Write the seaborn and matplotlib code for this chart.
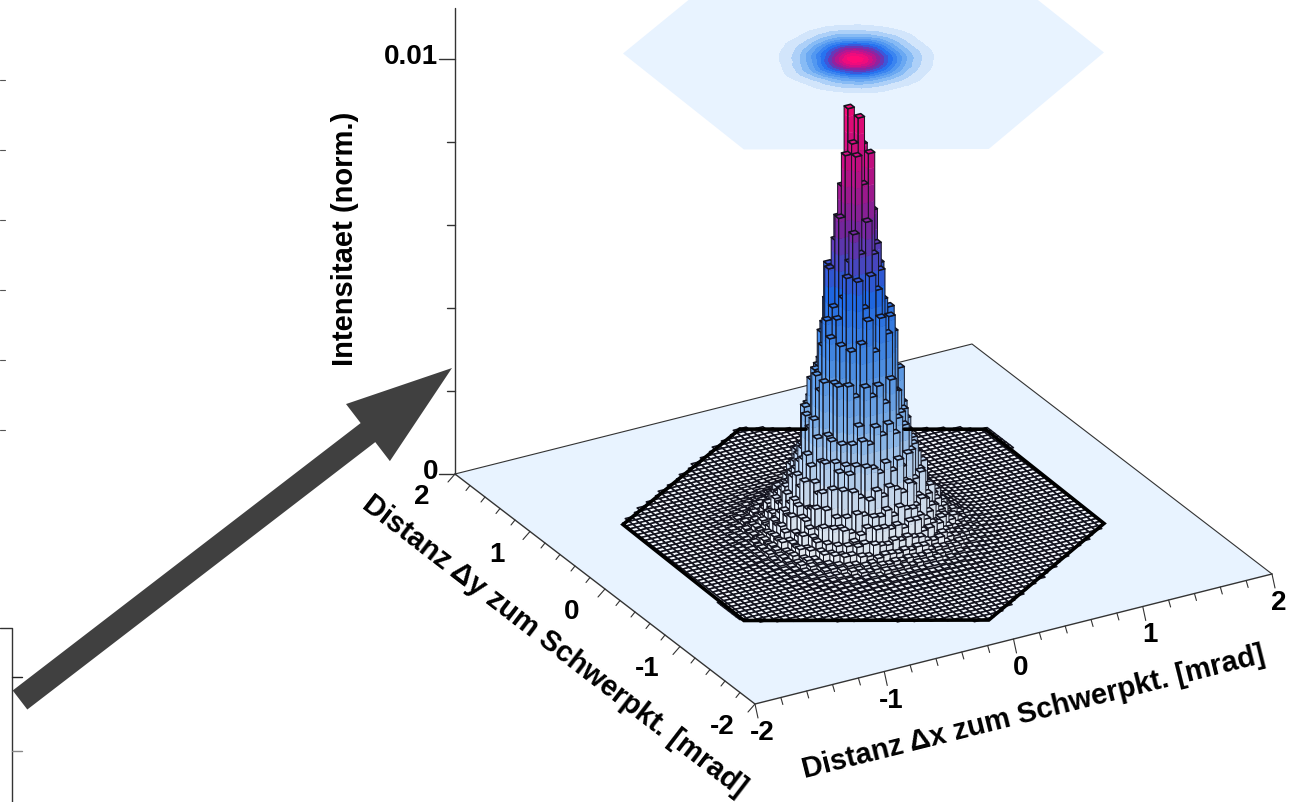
import numpy as np
import matplotlib
matplotlib.use("Agg")
import matplotlib.pyplot as plt
import seaborn as sns
from matplotlib.collections import PolyCollection
from matplotlib.colors import Normalize, to_rgba
from matplotlib.patches import FancyArrow, Polygon
from matplotlib.path import Path
from matplotlib.transforms import Affine2D

ring_width = 0.05
ring_values = [0.0098, 0.0089, 0.0074, 0.0062, 0.0052, 0.0038, 0.0029, 0.0021,
               0.0016, 0.00115, 0.00085, 0.0006, 0.0004, 0.00028, 0.0002,
               0.00013, 0.00009, 0.00006, 0.00004, 0.00002, 0.00001]
peak_x = -0.086
peak_y = -0.056

# cell to cell scatter of the histogram
scatter = [[1.00, 0.90, 1.03, 0.94, 1.02],
           [0.93, 1.03, 0.96, 1.04, 0.91],
           [1.03, 0.95, 1.02, 0.89, 1.03],
           [0.92, 1.03, 0.90, 1.04, 0.97],
           [1.03, 0.94, 1.04, 0.96, 0.90]]

hex_corners = [(0.0, 1.65), (1.43, 0.84), (1.405, -0.785),
               (0.0, -1.67), (-1.43, -0.87), (-1.405, 0.785)]
cell = 0.05

xy_major = [-2, -1, 0, 1, 2]
xy_minor = [-2 + 0.2 * i for i in range(21)]
z_ticks = [0, 0.002, 0.004, 0.006, 0.008, 0.01]
z_labels = {0: "0", 0.01: "0.01"}
top_plane_z = 0.01135

palette = ["#f6faff", "#cfe4fb", "#7fb6f4", "#4a93f0", "#1f6cf0",
           "#7a2aa8", "#c8108a", "#ff0a78"]
floor_color = "#e8f3ff"
line_color = "#333333"

# screen geometry of the oblique view
ORIGIN = (863.5, 524.0)
X_STEP = (129.25, -32.5)
Y_STEP = (-75.0, -57.5)
Z_STEP = -41500.0


def project(x, y, z=0.0):
    sx = ORIGIN[0] + X_STEP[0] * x + Y_STEP[0] * y
    sy = ORIGIN[1] + X_STEP[1] * x + Y_STEP[1] * y + Z_STEP * z
    return sx, sy


def bar_height(i, j, x, y):
    r = np.hypot(x - peak_x, y - peak_y)
    ring = min(int(r / ring_width), len(ring_values) - 1)
    return ring_values[ring] * scatter[i % 5][j % 5]


def shade(color, factor):
    r, g, b, a = color
    return (r * factor, g * factor, b * factor, a)


def box_average(grid):
    filled = np.nan_to_num(grid)
    out = np.zeros_like(filled)
    for dj in (-1, 0, 1):
        for di in (-1, 0, 1):
            out += np.roll(np.roll(filled, dj, axis=0), di, axis=1)
    return out / 9


sns.set_theme(style="white")
plt.rcParams["font.family"] = ["Liberation Sans", "DejaVu Sans"]
plt.rcParams["text.color"] = "black"

fig = plt.figure(figsize=(12.97, 8.02), dpi=100)
ax = fig.add_axes([0, 0, 1, 1])
ax.set_xlim(0, 1297)
ax.set_ylim(802, 0)
ax.axis("off")

cmap = sns.blend_palette(palette, as_cmap=True)
norm = Normalize(0, 0.0103)

hex_path = Path(hex_corners + [hex_corners[0]])
xs = np.arange(-1.425, 1.43, cell)
ys = np.arange(-1.675, 1.68, cell)
heights = np.full((len(ys), len(xs)), np.nan)
for j, y in enumerate(ys):
    for i, x in enumerate(xs):
        if hex_path.contains_point((x, y)):
            heights[j, i] = bar_height(i, j, x, y)

# floor
floor = [project(-2, -2), project(2, -2), project(2, 2), project(-2, 2)]
ax.add_patch(Polygon(floor, closed=True, facecolor=floor_color, edgecolor="none", zorder=1))
ax.plot(*zip(project(-2, 2), project(2, 2), project(2, -2)), color=line_color, lw=0.8, zorder=2)
ax.plot(*zip(project(-2, 2), project(-2, -2), project(2, -2)), color=line_color, lw=1.0, zorder=2)

# projection plane on top, with the same cells as contours
ax.add_patch(Polygon([project(a, b, top_plane_z) for a, b in hex_corners], closed=True,
                     facecolor=floor_color, edgecolor="none", zorder=1))
plane = Affine2D(np.array([[X_STEP[0], Y_STEP[0], ORIGIN[0]],
                           [X_STEP[1], Y_STEP[1], ORIGIN[1] + Z_STEP * top_plane_z],
                           [0, 0, 1]]))
ax.contourf(xs, ys, box_average(heights),
            levels=np.arange(0.0009, 0.0105, 0.0006), cmap=cmap, norm=Normalize(0, 0.0088),
            extend="max", transform=plane + ax.transData, zorder=2)

# bars, back to front
polys = []
faces = []
edges = []
widths = []
clear = (0, 0, 0, 0)
edge_dark = to_rgba("#14141f")
z_step = 0.0004

for j in range(len(ys) - 1, -1, -1):
    for i in range(len(xs) - 1, -1, -1):
        h = heights[j, i]
        if np.isnan(h):
            continue
        x0, x1 = xs[i] - cell / 2, xs[i] + cell / 2
        y0, y1 = ys[j] - cell / 2, ys[j] + cell / 2

        cuts = list(np.arange(0, h, z_step)) + [h]
        for lo, hi in zip(cuts[:-1], cuts[1:]):
            col = cmap(norm((lo + hi) / 2))
            left = [project(x0, y1, lo), project(x0, y0, lo), project(x0, y0, hi), project(x0, y1, hi)]
            right = [project(x0, y0, lo), project(x1, y0, lo), project(x1, y0, hi), project(x0, y0, hi)]
            polys += [left, right]
            faces += [col, shade(col, 0.93)]
            edges += [col, shade(col, 0.93)]
            widths += [0.2, 0.2]

        if h > 0.00015:
            left = [project(x0, y1, 0), project(x0, y0, 0), project(x0, y0, h), project(x0, y1, h)]
            right = [project(x0, y0, 0), project(x1, y0, 0), project(x1, y0, h), project(x0, y0, h)]
            polys += [left, right]
            faces += [clear, clear]
            edges += [edge_dark, edge_dark]
            widths += [0.7, 0.7]

        top = [project(x0, y0, h), project(x1, y0, h), project(x1, y1, h), project(x0, y1, h)]
        polys.append(top)
        faces.append(cmap(norm(h)))
        edges.append(edge_dark)
        widths.append(1.15)

bars = PolyCollection(polys, facecolors=faces, edgecolors=edges, linewidths=widths, zorder=3)
ax.add_collection(bars)

# hexagon outline, the back edge passes behind the peak
corners = [project(a, b) for a, b in hex_corners]
ax.plot(*zip(*(corners[1:] + corners[:1])), color="black", lw=2.6, zorder=4, solid_joinstyle="miter")
back_x = [corners[0][0], corners[1][0]]
back_y = [corners[0][1], corners[1][1]]
for t0, t1 in [(0, 0.27), (0.67, 1)]:
    ax.plot([back_x[0] + t0 * (back_x[1] - back_x[0]), back_x[0] + t1 * (back_x[1] - back_x[0])],
            [back_y[0] + t0 * (back_y[1] - back_y[0]), back_y[0] + t1 * (back_y[1] - back_y[0])],
            color="black", lw=2.6, zorder=4)

# z axis
zx, zy = project(-2, 2)
ax.plot([zx, zx], [zy, 8], color=line_color, lw=1.0, zorder=2)
for z in z_ticks:
    length = 16 if z in z_labels else 8
    ax.plot([zx - length, zx], [zy + Z_STEP * z, zy + Z_STEP * z], color=line_color, lw=1.0, zorder=2)
for z, label in z_labels.items():
    ax.text(zx - 17, zy + Z_STEP * z - 2, label, ha="right", va="center",
            fontsize=20, fontweight="bold")

# floor ticks
for t in xy_minor:
    major = abs(t - round(t)) < 1e-6
    sx, sy = project(t, -2)
    dx, dy = (3, 14) if major else (2, 7)
    ax.plot([sx, sx + dx], [sy, sy + dy], color=line_color, lw=0.8, zorder=2)
    sx, sy = project(-2, t)
    dx, dy = (-7, 8) if major else (-4, 5)
    ax.plot([sx, sx + dx], [sy, sy + dy], color=line_color, lw=0.8, zorder=2)

for t in xy_major:
    sx, sy = project(t, -2)
    ax.text(sx + 7, sy + 29, str(t), ha="center", va="center", fontsize=20, fontweight="bold")
    sx, sy = project(-2, t)
    ax.text(sx - 33, sy + 23, str(t), ha="center", va="center", fontsize=20, fontweight="bold")

ax.text(345, 239, "Intensitaet (norm.)", rotation=90, ha="center", va="center",
        fontsize=21, fontweight="bold")
ax.text(554, 646, "Distanz Δy zum Schwerpkt. [mrad]", rotation=-37.5, rotation_mode="anchor",
        ha="center", va="center", fontsize=21, fontweight="bold")
ax.text(1033, 712, "Distanz Δx zum Schwerpkt. [mrad]", rotation=14.1, rotation_mode="anchor",
        ha="center", va="center", fontsize=21, fontweight="bold")

# big arrow pointing at the plot
ax.add_patch(FancyArrow(20, 700, 432, -332, width=24, head_width=72, head_length=106,
                        length_includes_head=True, facecolor="#404040", edgecolor="none", zorder=5))

# left over bits of the neighbouring figure
for y in [80, 150, 220, 290, 360, 430]:
    ax.plot([0, 5], [y, y], color="#555555", lw=0.8)
ax.plot([0, 12, 12], [628, 628, 802], color="#333333", lw=1.0)
ax.plot([12, 22], [677, 677], color="#222222", lw=1.0)
ax.plot([12, 22], [751, 751], color="#888888", lw=1.0)

fig.savefig("out.png", dpi=100)
